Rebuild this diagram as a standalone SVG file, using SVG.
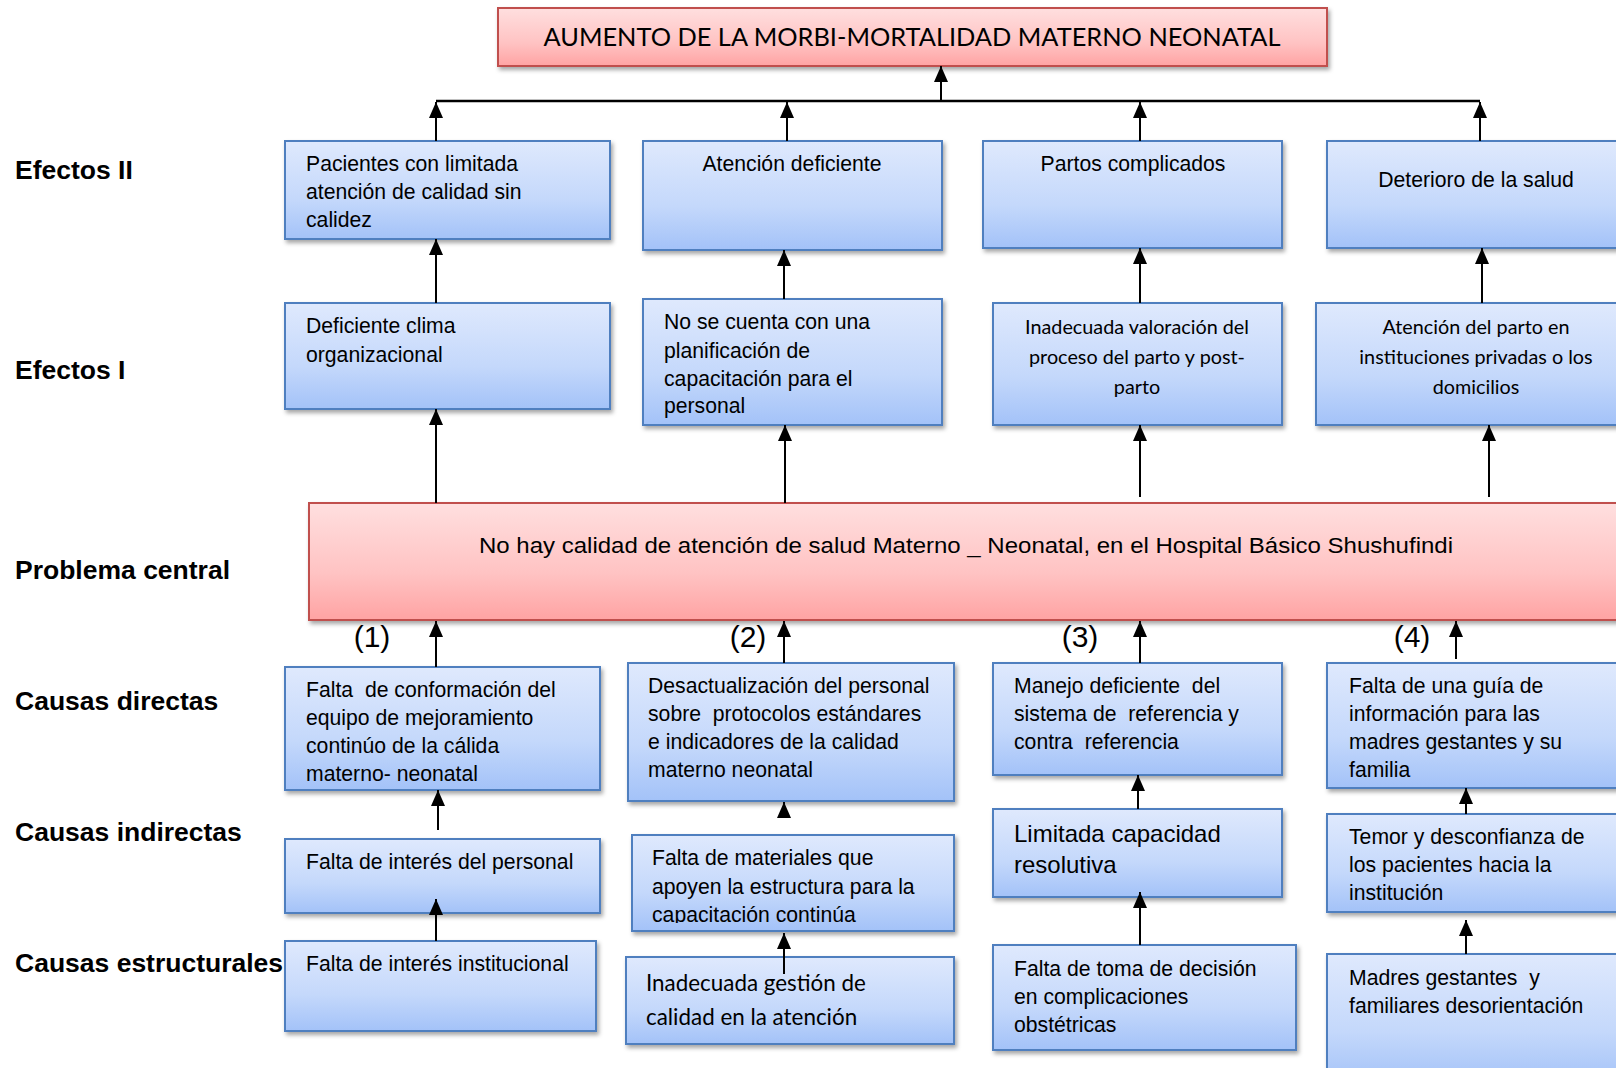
<svg xmlns="http://www.w3.org/2000/svg" width="1616" height="1068" viewBox="0 0 1616 1068">
<defs>
<linearGradient id="gb" x1="0" y1="0" x2="0" y2="1">
<stop offset="0" stop-color="#dfe9fd"/><stop offset="0.6" stop-color="#c4d8fb"/><stop offset="1" stop-color="#a3c2f8"/>
</linearGradient>
<linearGradient id="gr" x1="0" y1="0" x2="0" y2="1">
<stop offset="0" stop-color="#ffdfdf"/><stop offset="0.6" stop-color="#ffc3c3"/><stop offset="1" stop-color="#ffa3a3"/>
</linearGradient>
<filter id="sh" x="-5%" y="-10%" width="115%" height="130%">
<feDropShadow dx="2" dy="3" stdDeviation="2" flood-color="#000" flood-opacity="0.35"/>
</filter>
<marker id="ah" viewBox="0 0 16 14" refX="16" refY="7" markerWidth="16" markerHeight="14" markerUnits="userSpaceOnUse" orient="auto">
<path d="M0,0 L16,7 L0,14 z" fill="#000"/>
</marker>
<clipPath id="clipci2"><rect x="632" y="835" width="322" height="88"/></clipPath>
</defs>
<style>
.b{fill:url(#gb);stroke:#4f7fbf;stroke-width:2;filter:url(#sh)}
.r{fill:url(#gr);stroke:#c0504d;stroke-width:2;filter:url(#sh)}
.t{font-family:"Liberation Sans",Arial,sans-serif;font-size:21.2px;fill:#000}
.c{font-family:Lato,"Open Sans",sans-serif;font-size:19.8px;fill:#000;text-anchor:middle}
.m{text-anchor:middle}
.lab{font-family:"Liberation Sans",Arial,sans-serif;font-size:26.5px;font-weight:bold;fill:#000}
.num{font-family:"Liberation Sans",Arial,sans-serif;font-size:30px;fill:#000;text-anchor:middle}
.cn line,.cn path{stroke:#000;stroke-width:2;fill:none}
.cn .a{marker-end:url(#ah)}
</style>
<rect width="1616" height="1068" fill="#fff"/>

<g id="labels">
<text class="lab" x="15" y="179">Efectos II</text>
<text class="lab" x="15" y="379">Efectos I</text>
<text class="lab" x="15" y="579">Problema central</text>
<text class="lab" x="15" y="710">Causas directas</text>
<text class="lab" x="15" y="841">Causas indirectas</text>
<text class="lab" x="15" y="972">Causas estructurales</text>
</g>

<g id="top">
<rect class="r" x="498" y="8" width="829" height="58"/>
<text x="912" y="46" font-family="Lato, 'Open Sans', sans-serif" font-size="25" text-anchor="middle" textLength="737" lengthAdjust="spacingAndGlyphs">AUMENTO DE LA MORBI-MORTALIDAD MATERNO NEONATAL</text>
</g>

<g id="e2-1"><rect class="b" x="285" y="141" width="325" height="98"/>
<text class="t" x="306" y="171">Pacientes con limitada</text>
<text class="t" x="306" y="199">atención de calidad sin</text>
<text class="t" x="306" y="227">calidez</text></g>
<g id="e2-2"><rect class="b" x="643" y="141" width="299" height="109"/>
<text class="t m" x="792" y="171">Atención deficiente</text></g>
<g id="e2-3"><rect class="b" x="983" y="141" width="299" height="107"/>
<text class="t m" x="1133" y="171">Partos complicados</text></g>
<g id="e2-4"><rect class="b" x="1327" y="141" width="310" height="107"/>
<text class="t m" x="1476" y="187">Deterioro de la salud</text></g>

<g id="e1-1"><rect class="b" x="285" y="303" width="325" height="106"/>
<text class="t" x="306" y="333">Deficiente clima</text>
<text class="t" x="306" y="362">organizacional</text></g>
<g id="e1-2"><rect class="b" x="643" y="299" width="299" height="126"/>
<text class="t" x="664" y="329">No se cuenta con una</text>
<text class="t" x="664" y="358">planificación de</text>
<text class="t" x="664" y="386">capacitación para el</text>
<text class="t" x="664" y="413">personal</text></g>
<g id="e1-3"><rect class="b" x="993" y="303" width="289" height="122"/>
<text class="c" x="1137" y="334">Inadecuada valoración del</text>
<text class="c" x="1137" y="364">proceso del parto y post-</text>
<text class="c" x="1137" y="394">parto</text></g>
<g id="e1-4"><rect class="b" x="1316" y="303" width="321" height="122"/>
<text class="c" x="1476" y="334">Atención del parto en</text>
<text class="c" x="1476" y="364">instituciones privadas o los</text>
<text class="c" x="1476" y="394">domicilios</text></g>

<g id="central"><rect class="r" x="309" y="503" width="1330" height="117"/>
<text x="966" y="553" font-family="'Liberation Sans', Arial, sans-serif" font-size="22" text-anchor="middle" textLength="974" lengthAdjust="spacingAndGlyphs">No hay calidad de atención de salud Materno _ Neonatal, en el Hospital Básico Shushufindi</text></g>

<g id="numbers">
<text class="num" x="372" y="647">(1)</text>
<text class="num" x="748" y="647">(2)</text>
<text class="num" x="1080" y="647">(3)</text>
<text class="num" x="1412" y="647">(4)</text>
</g>

<g id="cd-1"><rect class="b" x="285" y="667" width="315" height="123"/>
<text class="t" x="306" y="697" xml:space="preserve">Falta  de conformación del</text>
<text class="t" x="306" y="725">equipo de mejoramiento</text>
<text class="t" x="306" y="753">continúo de la cálida</text>
<text class="t" x="306" y="781">materno- neonatal</text></g>
<g id="cd-2"><rect class="b" x="628" y="663" width="326" height="138"/>
<text class="t" x="648" y="693">Desactualización del personal</text>
<text class="t" x="648" y="721" xml:space="preserve">sobre  protocolos estándares</text>
<text class="t" x="648" y="749">e indicadores de la calidad</text>
<text class="t" x="648" y="777">materno neonatal</text></g>
<g id="cd-3"><rect class="b" x="993" y="663" width="289" height="112"/>
<text class="t" x="1014" y="693" xml:space="preserve">Manejo deficiente  del</text>
<text class="t" x="1014" y="721" xml:space="preserve">sistema de  referencia y</text>
<text class="t" x="1014" y="749" xml:space="preserve">contra  referencia</text></g>
<g id="cd-4"><rect class="b" x="1327" y="663" width="310" height="125"/>
<text class="t" x="1349" y="693">Falta de una guía de</text>
<text class="t" x="1349" y="721">información para las</text>
<text class="t" x="1349" y="749">madres gestantes y su</text>
<text class="t" x="1349" y="777">familia</text></g>

<g id="ci-1"><rect class="b" x="285" y="839" width="315" height="74"/>
<text class="t" x="306" y="869">Falta de interés del personal</text></g>
<g id="ci-2"><rect class="b" x="632" y="835" width="322" height="96"/>
<g clip-path="url(#clipci2)">
<text class="t" x="652" y="865">Falta de materiales que</text>
<text class="t" x="652" y="894">apoyen la estructura para la</text>
<text class="t" x="652" y="922">capacitación continúa</text></g></g>
<g id="ci-3"><rect class="b" x="993" y="809" width="289" height="88"/>
<text class="t" x="1014" y="842" style="font-size:24px">Limitada capacidad</text>
<text class="t" x="1014" y="873" style="font-size:24px">resolutiva</text></g>
<g id="ci-4"><rect class="b" x="1327" y="814" width="310" height="98"/>
<text class="t" x="1349" y="844">Temor y desconfianza de</text>
<text class="t" x="1349" y="872">los pacientes hacia la</text>
<text class="t" x="1349" y="900">institución</text></g>

<g id="ce-1"><rect class="b" x="285" y="941" width="311" height="90"/>
<text class="t" x="306" y="971">Falta de interés institucional</text></g>
<g id="ce-2"><rect class="b" x="626" y="957" width="328" height="87"/>
<text x="646" y="991" font-family="Lato, 'Open Sans', sans-serif" font-size="22.4">Inadecuada gestión de</text>
<text x="646" y="1025" font-family="Lato, 'Open Sans', sans-serif" font-size="22.4">calidad en la atención</text></g>
<g id="ce-3"><rect class="b" x="993" y="945" width="303" height="105"/>
<text class="t" x="1014" y="976">Falta de toma de decisión</text>
<text class="t" x="1014" y="1004">en complicaciones</text>
<text class="t" x="1014" y="1032">obstétricas</text></g>
<g id="ce-4"><rect class="b" x="1327" y="954" width="310" height="130"/>
<text class="t" x="1349" y="985" xml:space="preserve">Madres gestantes  y</text>
<text class="t" x="1349" y="1013">familiares desorientación</text></g>

<g id="connectors" class="cn">
<path class="a" d="M941,101 L941,66"/>
<path d="M436,101 L1480,101" style="stroke-width:2.5"/>
<path class="a" d="M436,141 L436,102"/>
<path class="a" d="M787,141 L787,102"/>
<path class="a" d="M1140,141 L1140,102"/>
<path class="a" d="M1480,141 L1480,102"/>
<path class="a" d="M436,303 L436,239"/>
<path class="a" d="M784,299 L784,250"/>
<path class="a" d="M1140,303 L1140,248"/>
<path class="a" d="M1482,303 L1482,248"/>
<path class="a" d="M436,503 L436,409"/>
<path class="a" d="M785,503 L785,425"/>
<path class="a" d="M1140,497 L1140,425"/>
<path class="a" d="M1489,497 L1489,425"/>
<path class="a" d="M436,667 L436,621"/>
<path class="a" d="M784,663 L784,621"/>
<path class="a" d="M1140,663 L1140,621"/>
<path class="a" d="M1456,659 L1456,621"/>
<path class="a" d="M438,830 L438,790"/>
<path class="a" d="M784,818 L784,802"/>
<path class="a" d="M1138,809 L1138,775"/>
<path class="a" d="M1466,814 L1466,788"/>
<path class="a" d="M436,941 L436,899"/>
<path class="a" d="M784,974 L784,933"/>
<path class="a" d="M1140,945 L1140,892"/>
<path class="a" d="M1466,954 L1466,920"/>
</g>
</svg>
